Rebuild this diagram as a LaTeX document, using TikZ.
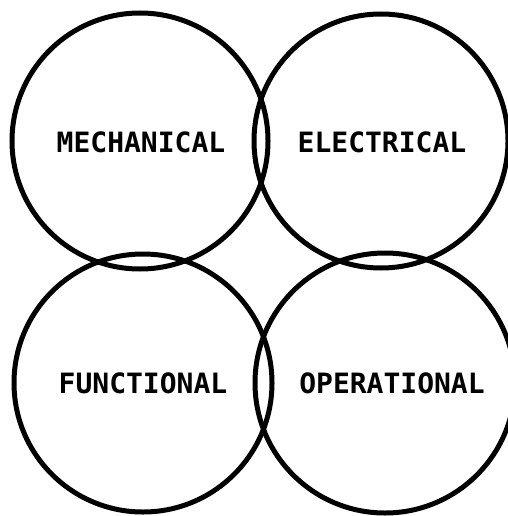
\documentclass[tikz,border=0pt]{standalone}
\usepackage{fontspec}
\newfontfamily\plotfont{DejaVu Sans Mono}
\begin{document}
\begin{tikzpicture}[x=1pt,y=-1pt,
  ring/.style={draw=black,line width=5pt,circle,inner sep=0pt,outer sep=0pt},
  lbl/.style={font=\plotfont\bfseries\fontsize{28}{28}\selectfont,inner sep=0pt,anchor=center}]
\useasboundingbox (0,0) rectangle (507,516);
\node[ring,minimum size=256pt] (mech) at (140,141) {};
\node[ring,minimum size=254pt] (elec) at (381,141) {};
\node[ring,minimum size=258pt] (func) at (143,383) {};
\node[ring,minimum size=260pt] (oper) at (385,383) {};
\node[lbl] (tmech) at (141,142) {MECHANICAL};
\node[lbl] (telec) at (382,142) {ELECTRICAL};
\node[lbl] (tfunc) at (143,383) {FUNCTIONAL};
\node[lbl] (toper) at (392,383) {OPERATIONAL};
\end{tikzpicture}
\end{document}
